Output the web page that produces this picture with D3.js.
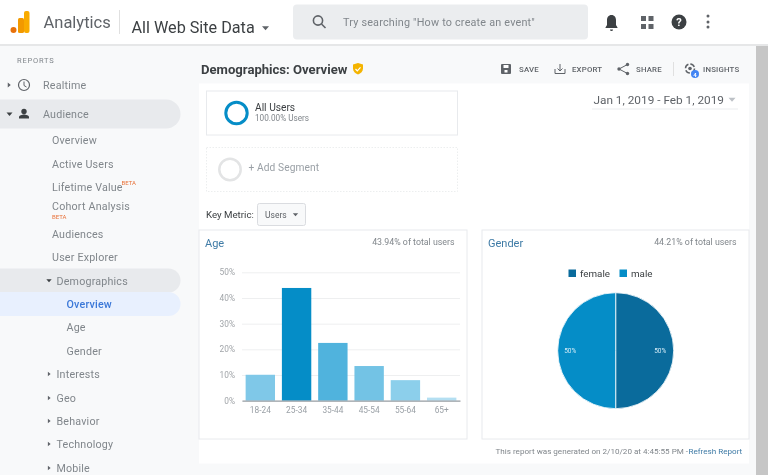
<!DOCTYPE html>
<html><head><meta charset="utf-8">
<script src="https://cdn.jsdelivr.net/npm/d3@7"></script>
<style>html,body{margin:0;padding:0;background:#fff;overflow:hidden}svg{display:block;filter:blur(.25px)}text{font-family:Roboto,sans-serif}</style>
</head><body><svg id="c" width="768" height="475"></svg>
<script>
const ageCategories=["18-24","25-34","35-44","45-54","55-64","65+"];
const ageValues=[10.1,43.9,22.5,13.5,8,1.2];
const ageColors=["#7fc8e8","#058dc7","#50b3dd","#73c3e5","#8ccfeb","#b4dff2"];
const ageTicks=[0,10,20,30,40,50];
const genderCategories=["female","male"];
const genderValues=[50,50];
const genderColors=["#0a6b9c","#058dc7"];
const navTop=[["Realtime",85],["Audience",114]];
const navSub=[["Overview",140],["Active Users",164],["Lifetime Value",187],["Cohort Analysis",205.5],["Audiences",234],["User Explorer",257]];
const navDemo=[["Overview",304,"#3b78d8"],["Age",327,"#80868b"],["Gender",351,"#80868b"]];
const navMore=[["Interests",374],["Geo",398],["Behavior",421],["Technology",444],["Mobile",468]];
const actions=[["SAVE",519],["EXPORT",572],["SHARE",636],["INSIGHTS",703]];

const svg=d3.select("#c");
const rect=(x,y,w,h,f,o={})=>{const r=svg.append("rect").attr("x",x).attr("y",y).attr("width",w).attr("height",h).attr("fill",f);
  if(o.rx)r.attr("rx",o.rx);if(o.s)r.attr("stroke",o.s);if(o.d)r.attr("stroke-dasharray",o.d);return r;};
const text=(s,x,y,size,fill,o={})=>{const t=svg.append("text").attr("x",x).attr("y",y).attr("font-size",size).attr("fill",fill).text(s);
  if(o.a)t.attr("text-anchor",o.a);if(o.w)t.attr("font-weight",o.w);if(o.ls)t.attr("letter-spacing",o.ls);if(o.f)t.attr("font-family",o.f);return t;};
const tri=(x,y,dir,f="#5f6368",k=3)=>svg.append("path").attr("fill",f).attr("d",dir==="d"
  ?`M${x-k},${y-k/2}L${x+k},${y-k/2}L${x},${y+k/2+.5}Z`:`M${x-k/2},${y-k}L${x+k/2+.5},${y}L${x-k/2},${y+k}Z`);

// page
rect(0,45,191,430,"#f8f9fa");
rect(191,45,565,430,"#f8f9fa");
rect(756,45,12,430,"#c6c6c6");
rect(0,0,768,44,"#fff");
rect(0,44,768,2,"#e6e7e8");

// header
const logo=svg.append("g");
logo.append("circle").attr("cx",13.5).attr("cy",30).attr("r",3).attr("fill","#e8710a");
logo.append("rect").attr("x",18).attr("y",18).attr("width",6).attr("height",15).attr("rx",1.5).attr("fill","#f29900");
logo.append("rect").attr("x",24).attr("y",11).attr("width",5.5).attr("height",22).attr("rx",2).attr("fill","#f9ab00");
text("Analytics",43.5,28,16.5,"#5f6368");
rect(119,10,1,24,"#e0e0e0");
text("All Web Site Data",131.5,33,16.2,"#3c4043");
tri(265.5,28,"d","#5f6368",3.5);
rect(293,4.5,295,35,"#ebedef",{rx:4});
svg.append("g").attr("fill","none").attr("stroke","#5f6368").attr("stroke-width",1.6).call(g=>{
  g.append("circle").attr("cx",318).attr("cy",20.5).attr("r",4.6);
  g.append("line").attr("x1",321.5).attr("y1",24).attr("x2",325.5).attr("y2",28);});
text("Try searching \"How to create an event\"",343,26,10.8,"#80868b",{ls:.2});
svg.append("path").attr("fill","#3c4043").attr("d","M611.5,15c-3,0-4.5,2.5-4.5,5v5l-1.5,2.5v.5h12v-.5L616,25v-5c0-2.500-1.500-5-4.500-5zM610,29.500h3a1.500,1.500 0 0 1-3,0z");
[[641,16],[648.5,16],[641,24],[648.5,24]].forEach(p=>rect(p[0],p[1],5,5,"#5f6368"));
svg.append("circle").attr("cx",679).attr("cy",22).attr("r",7.500).attr("fill","#3c4043");
text("?",679,26,11,"#fff",{a:"middle",w:700});
[16,22,27].forEach(y=>svg.append("circle").attr("cx",708).attr("cy",y).attr("r",1.500).attr("fill","#5f6368"));

// sidebar
text("REPORTS",17,63,7.500,"#80868b",{ls:.8});
rect(-20,99.500,200.500,29,"#e8eaed",{rx:14.500});
rect(-20,268.500,200.500,24,"#e8eaed",{rx:12});
rect(-20,292,200.500,24,"#e8f0fe",{rx:12});
tri(9,85,"r","#5f6368",2.500);
tri(9.500,114,"d","#3c4043",3);
svg.append("circle").attr("cx",24).attr("cy",85).attr("r",5.500).attr("fill","none").attr("stroke","#5f6368").attr("stroke-width",1.200);
svg.append("path").attr("fill","none").attr("stroke","#5f6368").attr("d","M24,81.500V85.500L26.500,87");
svg.append("circle").attr("cx",24).attr("cy",111.500).attr("r",2.700).attr("fill","#3c4043");
svg.append("path").attr("fill","#3c4043").attr("d","M19,118.500v-1.500c0-1.500,3-2.500,5-2.500s5,1,5,2.500v1.500z");
navTop.forEach(d=>text(d[0],43,d[1]+4,10.700,"#80868b",{ls:.2}));
navSub.forEach(d=>text(d[0],52,d[1]+4,10.700,"#80868b",{ls:.2}));
text("BETA",121.500,185,6,"#e8733a");
text("BETA",52,218.500,6,"#e8733a");
tri(49,280.500,"d","#3c4043",2.700);
text("Demographics",56.500,285,10.700,"#80868b",{ls:.2});
navDemo.forEach(d=>text(d[0],66.500,d[1]+4,10.700,d[2],{ls:.2,w:d[1]===304?500:400}));
navMore.forEach(d=>{tri(49,d[1],"r","#5f6368",2.300);text(d[0],56.500,d[1]+4,10.700,"#80868b",{ls:.2});});

// title bar
text("Demographics: Overview",201,74,13.100,"#3c4043",{w:700});
svg.append("path").attr("fill","#f4b400").attr("d","M358,63l5,1.500v4c0,3-2.200,5-5,6c-2.800-1-5-3-5-6v-4z");
svg.append("path").attr("fill","none").attr("stroke","#fff").attr("stroke-width",1.200).attr("d","M355.500,69l1.800,1.800l3.200-3.400");
actions.forEach(d=>text(d[0],d[1],72,7.800,"#5f6368",{w:500,ls:.2}));
rect(501,64,10,10,"#5f6368",{rx:1});rect(503.500,65,5,3,"#fff");rect(504.500,70,3,2.500,"#fff");
svg.append("path").attr("fill","none").attr("stroke","#5f6368").attr("d","M555,69v4.500h10V69M560,64v6.500M557.500,68.500l2.500,2.500l2.500-2.500");
svg.append("path").attr("fill","none").attr("stroke","#5f6368").attr("d","M627.500,64.500L619,69l8.500,4.500");
[[627.500,64.500],[619,69],[627.500,73.500]].forEach(p=>svg.append("circle").attr("cx",p[0]).attr("cy",p[1]).attr("r",1.700).attr("fill","#5f6368"));
rect(673,62,1,14,"#e0e0e0");
svg.append("circle").attr("cx",690).attr("cy",68.500).attr("r",4.500).attr("fill","none").attr("stroke","#5f6368").attr("stroke-width",1.500).attr("stroke-dasharray","5,2");
svg.append("circle").attr("cx",690).attr("cy",68.500).attr("r",1.800).attr("fill","#5f6368");
svg.append("circle").attr("cx",695).attr("cy",74).attr("r",4).attr("fill","#4285f4");
text("4",695,76.500,6,"#fff",{a:"middle",w:700});

// main panel
rect(199,83.500,550,380,"#fff");
rect(206.500,91,251,44,"#fff",{s:"#e8eaed"});
svg.append("circle").attr("cx",236.500).attr("cy",113).attr("r",10.700).attr("fill","none").attr("stroke","#058dc7").attr("stroke-width",3);
text("All Users",255,111,10.200,"#3c4043");
text("100.00% Users",255,121,8.200,"#80868b");
rect(206.500,147.500,251,44,"#fff",{s:"#eceeef",d:"1.500,1.500"});
svg.append("circle").attr("cx",230).attr("cy",169.500).attr("r",10.700).attr("fill","none").attr("stroke","#e3e4e5").attr("stroke-width",2.500);
text("+ Add Segment",248.500,171,10.200,"#9aa0a6",{ls:.1});
text("Jan 1, 2019 - Feb 1, 2019",593.500,104,11.800,"#5f6368");
tri(732,99.500,"d","#bdc1c6",3.500);
rect(592,108.500,146,1,"#eceeef");
text("Key Metric:",206,218,9.700,"#3c4043");
rect(257.500,203.500,48,22,"#f8f9fa",{rx:2,s:"#dadce0"});
text("Users",265,218,8.500,"#5f6368");
tri(295.500,214.500,"d","#5f6368",2.700);

// chart cards
rect(199,230,268,209,"#fff",{s:"#e8eaed"});
rect(482,230,267,209,"#fff",{s:"#e8eaed"});
text("Age",205,247,11,"#3f7ba6");
text("43.94% of total users",454.500,245,8.800,"#80868b",{a:"end"});
text("Gender",488,247,11,"#3f7ba6");
text("44.21% of total users",736.500,245,8.800,"#80868b",{a:"end"});

// bar chart
const x=d3.scaleBand().domain(ageCategories).range([242,460]).paddingInner(.19).paddingOuter(.1);
const y=d3.scaleLinear().domain([0,50]).range([400.700,272.300]);
const yAxis=d3.axisLeft(y).tickValues(ageTicks).tickFormat(d=>d+"%").tickSize(-218).tickPadding(7);
const gy=svg.append("g").attr("transform","translate(242,0)").call(yAxis);
gy.select(".domain").remove();
gy.selectAll("line").attr("stroke","#eeeff0");
gy.selectAll("text").attr("fill","#a0a4a8").attr("font-size",8.300).attr("font-family","Roboto,sans-serif");
svg.append("g").selectAll("rect").data(ageValues).join("rect")
  .attr("x",(d,i)=>x(ageCategories[i])).attr("width",x.bandwidth())
  .attr("y",d=>y(d)).attr("height",d=>y(0)-y(d)).attr("fill",(d,i)=>ageColors[i]);
const xAxis=d3.axisBottom(x).tickSize(0).tickPadding(6);
const gx=svg.append("g").attr("transform","translate(0,400.700)").call(xAxis);
gx.select(".domain").attr("stroke","#9aa0a6").attr("stroke-width",1.200);
gx.selectAll("text").attr("fill","#9aa0a6").attr("font-size",8.300).attr("font-family","Roboto,sans-serif");

// pie chart
const legendX=[568.500,619.500];
genderCategories.forEach((c,i)=>{rect(legendX[i],269.500,7.500,7.500,genderColors[i]);text(c,legendX[i]+11.500,277,9.800,"#3c4043");});
const pie=d3.pie().sort(null)(genderValues);
const arc=d3.arc().innerRadius(0).outerRadius(58);
const gp=svg.append("g").attr("transform","translate(615.700,350.700)");
gp.selectAll("path").data(pie).join("path").attr("d",arc).attr("fill",(d,i)=>genderColors[i]).attr("stroke","#fff").attr("stroke-width",.8);
const lx=[44.500,-45.500];
gp.selectAll("text").data(pie).join("text").attr("x",(d,i)=>lx[i]).attr("y",2.500).attr("text-anchor","middle")
  .attr("font-size",6.500).attr("fill","#d4ecf7").text(d=>d.data+"%");

// footer
text("This report was generated on 2/10/20 at 4:45:55 PM -",495.500,454,8.100,"#80868b");
text("Refresh Report",688.500,454,8.100,"#3f7ba6");
</script></body></html>
